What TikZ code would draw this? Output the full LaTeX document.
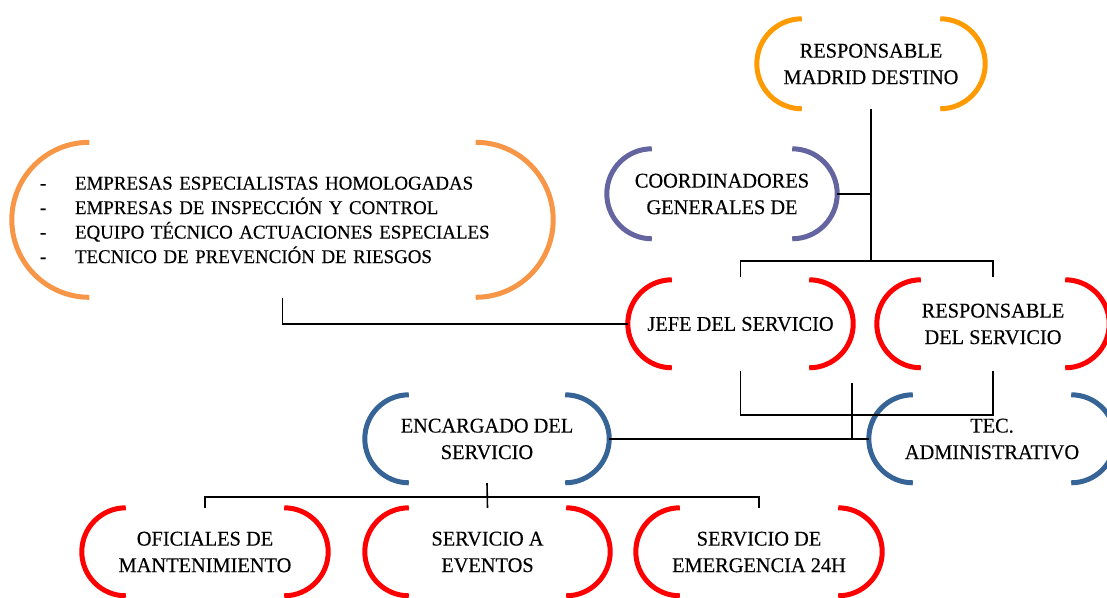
\documentclass[tikz,border=0pt]{standalone}
\usepackage{fontspec}
\setmainfont{Liberation Serif}[FakeBold=0.3, FakeStretch=0.97]
\definecolor{topor}{RGB}{255,155,0}
\definecolor{listor}{RGB}{247,150,70}
\definecolor{purp}{RGB}{100,100,160}
\definecolor{bred}{RGB}{255,0,0}
\definecolor{bblue}{RGB}{55,100,150}
\tikzset{
  box/.style={inner sep=0pt, align=center, font=\fontsize{21}{26.5}\selectfont},
  arcline/.style={line width=5pt},
  conn/.style={line width=1.6pt, black}
}
\newcommand\brk[3]{%
  \draw[#2,arcline] ([xshift=#3]#1.north west) arc[start angle=90,end angle=270,radius=#3];
  \draw[#2,arcline] ([xshift=-#3]#1.north east) arc[start angle=90,end angle=-90,radius=#3];}
\begin{document}
\begin{tikzpicture}[x=1pt,y=1pt]
\useasboundingbox (0,0) rectangle (1107,597);
% nodes
\node[box, minimum width=228pt, minimum height=90pt] (top) at (871,533) {RESPONSABLE\\MADRID DESTINO};
\node[box, minimum width=230pt, minimum height=90pt] (coord) at (722,403) {COORDINADORES\\GENERALES DE};
\node[box, minimum width=541pt, minimum height=155pt, text width=485pt, align=left, inner xsep=28pt,
      font=\fontsize{19.5}{24.5}\selectfont] (list) at (282.5,377)
  {\makebox[35pt][l]{-}EMPRESAS ESPECIALISTAS HOMOLOGADAS\\
   \makebox[35pt][l]{-}EMPRESAS DE INSPECCIÓN Y CONTROL\\
   \makebox[35pt][l]{-}EQUIPO TÉCNICO ACTUACIONES ESPECIALES\\
   \makebox[35pt][l]{-}TECNICO DE PREVENCIÓN DE RIESGOS};
\node[box, minimum width=225pt, minimum height=88pt] (jefe) at (740.5,273) {JEFE DEL SERVICIO};
\node[box, minimum width=232pt, minimum height=88pt] (resp) at (993,273) {RESPONSABLE\\DEL SERVICIO};
\node[box, minimum width=244pt, minimum height=88pt] (enc) at (487,158) {ENCARGADO DEL\\SERVICIO};
\node[box, minimum width=246pt, minimum height=88pt] (tec) at (992,158) {TEC.\\ADMINISTRATIVO};
\node[box, minimum width=246pt, minimum height=88pt] (ofi) at (205,45) {OFICIALES DE\\MANTENIMIENTO};
\node[box, minimum width=245pt, minimum height=88pt] (eve) at (487.5,45) {SERVICIO A\\EVENTOS};
\node[box, minimum width=246pt, minimum height=88pt] (eme) at (759,45) {SERVICIO DE\\EMERGENCIA 24H};
% brackets
\brk{top}{topor}{45pt}
\brk{coord}{purp}{45pt}
\brk{list}{listor}{77.5pt}
\brk{jefe}{bred}{44pt}
\brk{resp}{bred}{44pt}
\brk{enc}{bblue}{44pt}
\brk{tec}{bblue}{44pt}
\brk{ofi}{bred}{44pt}
\brk{eve}{bred}{44pt}
\brk{eme}{bred}{44pt}
% connector coordinates
\coordinate (j1) at (871,336);
\coordinate (u) at (0,182);
\coordinate (k) at (852,214);
\coordinate (b) at (0,100);
% connectors
\draw[conn] (top.south) -- (j1);
\draw[conn] (coord.east) -- (coord.east -| j1);
\draw[conn] ([yshift=3pt]jefe.north) |- (j1) -| ([yshift=3pt]resp.north);
\draw[conn] (list.south) |- (jefe.west);
\draw[conn] ([yshift=-3pt]jefe.south) -- (jefe.south |- u) -- (resp.south |- u) -- ([yshift=-3pt]resp.south);
\draw[conn] (k) -- (k |- enc.east);
\draw[conn] (enc.east) -- (tec.west);
\draw[conn] (ofi.north) -- (ofi.north |- b) -- (eme.north |- b) -- (eme.north);
\draw[conn] (enc.south) -- (eve.north);
\end{tikzpicture}
\end{document}
